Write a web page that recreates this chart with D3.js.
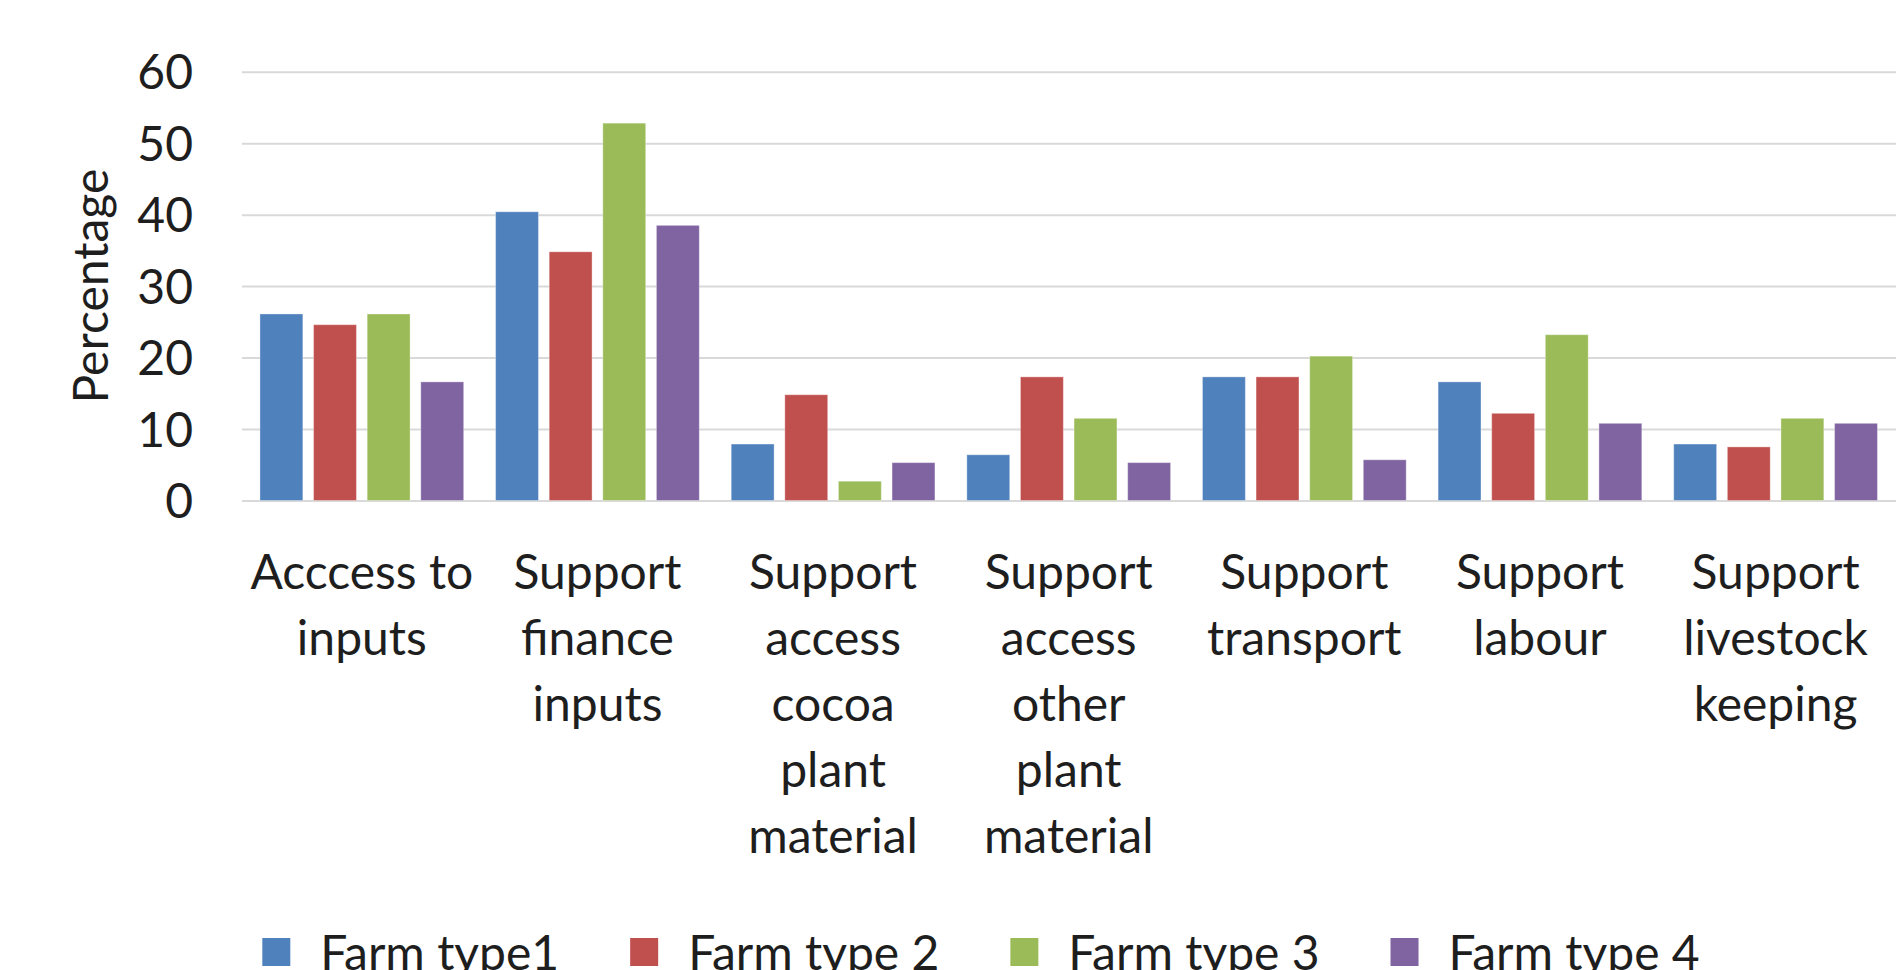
<!DOCTYPE html>
<html>
<head>
<meta charset="utf-8">
<script src="https://cdn.jsdelivr.net/npm/d3@7"></script>
<style>
  html, body { margin: 0; padding: 0; background: #fff; }
  svg { display: block; }
  text { font-family: Lato, "Open Sans", sans-serif; fill: #1e1e1e; }
</style>
</head>
<body>
<svg id="chart" width="1903" height="970"></svg>
<script>
// Support types received, by farm type (percentage of farms)
const categories = [
  "Acccess to inputs",
  "Support finance inputs",
  "Support access cocoa plant material",
  "Support access other plant material",
  "Support transport",
  "Support labour",
  "Support livestock keeping"
];
const seriesNames = ["Farm type1", "Farm type 2", "Farm type 3", "Farm type 4"];
const farmType1 = [26.1, 40.4, 7.9, 6.4, 17.3, 16.6, 7.9];
const farmType2 = [24.6, 34.8, 14.8, 17.3, 17.3, 12.2, 7.5];
const farmType3 = [26.1, 52.8, 2.7, 11.5, 20.2, 23.2, 11.5];
const farmType4 = [16.6, 38.5, 5.3, 5.3, 5.7, 10.8, 10.8];
const yTicks = [0, 10, 20, 30, 40, 50, 60];
const colors = ["#4F81BD", "#C0504D", "#9BBB59", "#8064A2"];

const seriesValues = [farmType1, farmType2, farmType3, farmType4];
const rows = categories.map((c, i) => ({
  category: c,
  values: seriesNames.map((s, j) => ({ series: s, value: seriesValues[j][i] }))
}));

const svg = d3.select("#chart");
const plotLeft = 242, plotRight = 1896, plotTop = 71.7, plotBottom = 500.5;
const fontSize = 48;

const y = d3.scaleLinear().domain([0, 60]).range([plotBottom, plotTop]);
const x0 = d3.scaleBand().domain(categories).range([244, 1893.4])
  .paddingInner(0.1354).paddingOuter(0.0677);
const x1 = d3.scaleBand().domain(seriesNames).range([0, x0.bandwidth()])
  .paddingInner(0.2).paddingOuter(0);
const color = d3.scaleOrdinal().domain(seriesNames).range(colors);

// horizontal gridlines (including the zero line)
const grid = svg.append("g").attr("transform", `translate(${plotLeft},0)`)
  .call(d3.axisLeft(y).tickValues(yTicks).tickSize(-(plotRight - plotLeft)).tickFormat(""));
grid.select(".domain").remove();
grid.selectAll(".tick line").attr("stroke", "#d9d9d9").attr("stroke-width", 2);

// y tick labels
const yAxis = svg.append("g").attr("transform", `translate(${plotLeft},0)`)
  .call(d3.axisLeft(y).tickValues(yTicks).tickSize(0).tickPadding(49));
yAxis.select(".domain").remove();
yAxis.selectAll("text")
  .attr("font-size", fontSize)
  .style("font-family", "Lato, 'Open Sans', sans-serif")
  .attr("fill", "#1e1e1e")
  .attr("dy", "0.36em");

// y axis title
svg.append("text")
  .attr("transform", `translate(108,${(plotTop + plotBottom) / 2}) rotate(-90)`)
  .attr("text-anchor", "middle")
  .attr("font-size", fontSize)
  .text("Percentage");

// grouped bars
const groups = svg.append("g").selectAll("g").data(rows).join("g")
  .attr("transform", d => `translate(${x0(d.category)},0)`);
groups.selectAll("rect").data(d => d.values).join("rect")
  .attr("x", d => x1(d.series))
  .attr("y", d => y(d.value))
  .attr("width", x1.bandwidth())
  .attr("height", d => y(0) - y(d.value))
  .attr("fill", d => color(d.series))
  .attr("stroke", "#ffffff")
  .attr("stroke-opacity", 0.35)
  .attr("stroke-width", 1);

// category labels, wrapped to the width of one category slot
const maxLabelWidth = 224;
const labelG = svg.append("g");
categories.forEach(cat => {
  const cx = x0(cat) + x0.bandwidth() / 2;
  const t = labelG.append("text")
    .attr("x", cx)
    .attr("y", 589)
    .attr("text-anchor", "middle")
    .attr("font-size", fontSize);
  const words = cat.split(" ");
  let line = [];
  let tspan = t.append("tspan").attr("x", cx).attr("dy", 0);
  words.forEach(w => {
    line.push(w);
    tspan.text(line.join(" "));
    if (line.length > 1 && tspan.node().getComputedTextLength() > maxLabelWidth) {
      line.pop();
      tspan.text(line.join(" "));
      line = [w];
      tspan = t.append("tspan").attr("x", cx).attr("dy", 66).text(w);
    }
  });
});

// legend along the bottom edge
const legend = svg.append("g");
const sq = 28, sqGap = 58, entryGap = 71, legendBaseline = 969.5;
let cursor = 0;
seriesNames.forEach(s => {
  const g = legend.append("g");
  g.append("rect").attr("x", cursor).attr("y", legendBaseline - 31.5)
    .attr("width", sq).attr("height", sq).attr("fill", color(s));
  const txt = g.append("text").attr("x", cursor + sqGap)
    .attr("y", legendBaseline).attr("font-size", fontSize).text(s);
  const w = txt.node().getComputedTextLength();
  cursor += sqGap + w + entryGap;
});
const legendWidth = cursor - entryGap;
legend.attr("transform", `translate(${981 - legendWidth / 2},0)`);
</script>
</body>
</html>
